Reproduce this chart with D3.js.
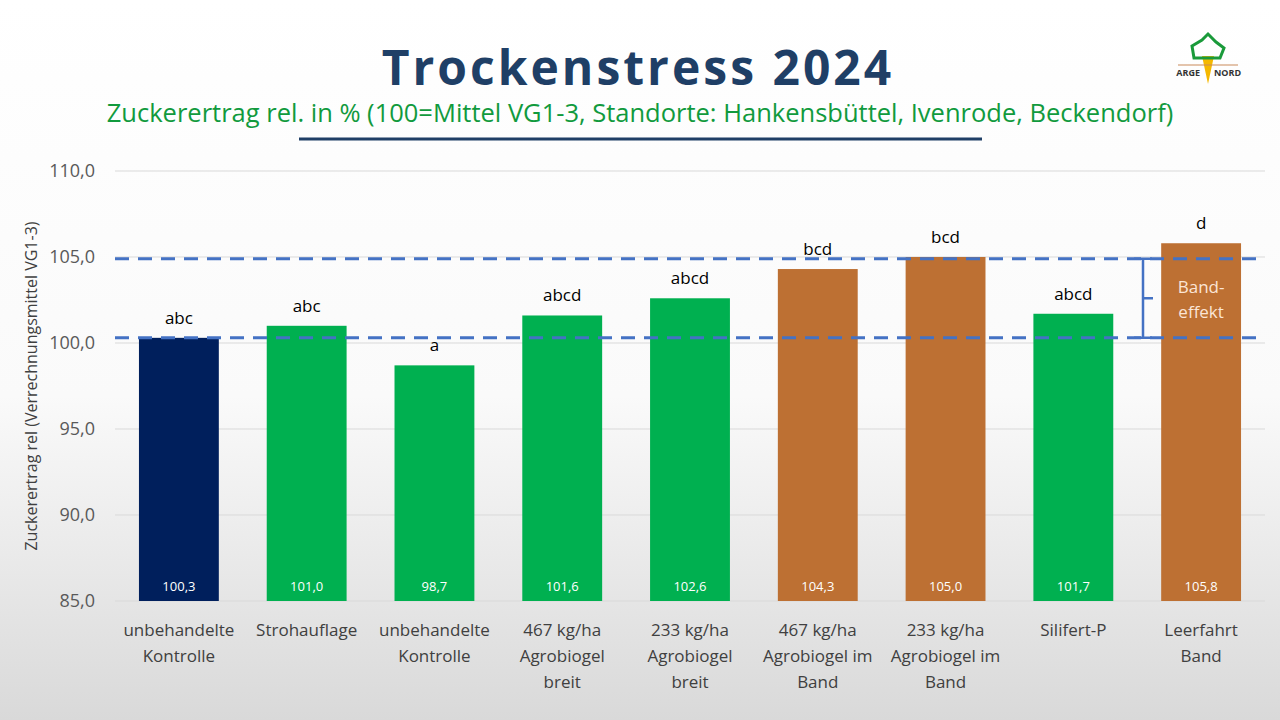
<!DOCTYPE html>
<html><head><meta charset="utf-8">
<script src="https://cdn.jsdelivr.net/npm/d3@7"></script>
<style>body{margin:0;overflow:hidden}svg{display:block}text{font-family:"Open Sans","Noto Sans",sans-serif}</style>
</head><body><svg id="canvas"></svg>
<script>
let categories = [
  ['unbehandelte', 'Kontrolle'], ['Strohauflage'], ['unbehandelte', 'Kontrolle'],
  ['467 kg/ha', 'Agrobiogel', 'breit'], ['233 kg/ha', 'Agrobiogel', 'breit'],
  ['467 kg/ha', 'Agrobiogel im', 'Band'], ['233 kg/ha', 'Agrobiogel im', 'Band'],
  ['Silifert-P'], ['Leerfahrt', 'Band']
]
let values = [100.3, 101.0, 98.7, 101.6, 102.6, 104.3, 105.0, 101.7, 105.8]
let letters = ['abc', 'abc', 'a', 'abcd', 'abcd', 'bcd', 'bcd', 'abcd', 'd']
let colors = ['#001f5c', '#00b050', '#00b050', '#00b050', '#00b050', '#bd7033', '#bd7033', '#00b050', '#bd7033']
let yTicks = [85, 90, 95, 100, 105, 110]
let refLines = [100.3, 104.9]

let width = 1280, height = 720
let svg = d3.select('#canvas').attr('width', width).attr('height', height)

let grad = svg.append('defs').append('linearGradient').attr('id', 'bg').attr('x1', 0).attr('x2', 0).attr('y1', 0).attr('y2', 1)
grad.append('stop').attr('offset', '0%').attr('stop-color', '#ffffff')
grad.append('stop').attr('offset', '55%').attr('stop-color', '#fafafa')
grad.append('stop').attr('offset', '100%').attr('stop-color', '#d9d9d9')
svg.append('rect').attr('width', width).attr('height', height).attr('fill', 'url(#bg)')

svg.append('text').attr('x', 638).attr('y', 85).attr('text-anchor', 'middle')
  .attr('font-size', 48).attr('font-weight', 'bold').attr('letter-spacing', 3).attr('fill', '#1f3f66')
  .text('Trockenstress 2024')
svg.append('text').attr('x', 640).attr('y', 122).attr('text-anchor', 'middle')
  .attr('font-size', 25.5).attr('fill', '#119a3d')
  .text('Zuckerertrag rel. in % (100=Mittel VG1-3, Standorte: Hankensbüttel, Ivenrode, Beckendorf)')
svg.append('line').attr('x1', 299).attr('x2', 982).attr('y1', 139).attr('y2', 139)
  .attr('stroke', '#1f3f66').attr('stroke-width', 3)

// logo
let logo = svg.append('g').attr('transform', 'translate(1208,60)')
logo.append('path').attr('d', 'M-6,-4 L0,24 L6,-4 Z').attr('fill', '#f5b800')
logo.append('path').attr('d', 'M-14,-2 L-16,-14 L-6,-20 L0,-26 L8,-18 L16,-12 L12,-2 Z').attr('fill', 'none').attr('stroke', '#1a9a3a').attr('stroke-width', 3)
logo.append('line').attr('x1', -30).attr('x2', 30).attr('y1', 5).attr('y2', 5).attr('stroke', '#c98a5a').attr('stroke-width', 1)
logo.append('text').attr('x', -8).attr('y', 16).attr('text-anchor', 'end').attr('font-size', 9).attr('font-weight', 'bold').attr('fill', '#333').text('ARGE')
logo.append('text').attr('x', 6).attr('y', 16).attr('font-size', 9).attr('font-weight', 'bold').attr('fill', '#333').text('NORD')

let xScale = d3.scaleBand().domain(d3.range(values.length)).range([115, 1265]).paddingInner(0.375).paddingOuter(0.1875)
let yScale = d3.scaleLinear().domain([85, 110]).range([601, 171])

svg.append('g').selectAll('line').data(yTicks).enter().append('line')
  .attr('x1', 115).attr('x2', 1265).attr('y1', d => yScale(d)).attr('y2', d => yScale(d))
  .attr('stroke', '#d9d9d9')

let yAxis = d3.axisLeft(yScale).tickValues(yTicks).tickSize(0).tickPadding(10)
  .tickFormat(d => d3.format('.1f')(d).replace('.', ','))
let ya = svg.append('g').attr('transform', 'translate(105,0)').call(yAxis)
ya.select('.domain').remove()
ya.selectAll('text').attr('font-size', 18).attr('fill', '#595959').attr('font-family', '"Open Sans",sans-serif')

svg.append('text').attr('transform', 'translate(37,386) rotate(-90)').attr('text-anchor', 'middle')
  .attr('font-size', 16).attr('fill', '#404040').text('Zuckerertrag rel (Verrechnungsmittel VG1-3)')

svg.selectAll('.bar').data(values).enter().append('rect').attr('class', 'bar')
  .attr('x', (d, i) => xScale(i)).attr('width', xScale.bandwidth())
  .attr('y', d => yScale(d)).attr('height', d => yScale(85) - yScale(d))
  .attr('fill', (d, i) => colors[i])

svg.selectAll('.val').data(values).enter().append('text').attr('class', 'val')
  .attr('x', (d, i) => xScale(i) + xScale.bandwidth() / 2).attr('y', 591).attr('text-anchor', 'middle')
  .attr('font-size', 13).attr('fill', '#fff').text(d => d3.format('.1f')(d).replace('.', ','))

svg.selectAll('.let').data(values).enter().append('text').attr('class', 'let')
  .attr('x', (d, i) => xScale(i) + xScale.bandwidth() / 2).attr('y', d => yScale(d) - 14).attr('text-anchor', 'middle')
  .attr('font-size', 17).attr('fill', '#000').text((d, i) => letters[i])

svg.selectAll('.ref').data(refLines).enter().append('line').attr('class', 'ref')
  .attr('x1', 115).attr('x2', 1265).attr('y1', d => yScale(d)).attr('y2', d => yScale(d))
  .attr('stroke', '#4472c4').attr('stroke-width', 3).attr('stroke-dasharray', '14,9')

// brace
let bx = 1143, yt = yScale(refLines[1]), yb = yScale(refLines[0]), ym = (yt + yb) / 2
svg.append('path').attr('d', `M${bx - 9},${yt} H${bx + 9} M${bx},${yt} V${yb} M${bx - 9},${yb} H${bx + 9} M${bx},${ym} H${bx + 10}`)
  .attr('fill', 'none').attr('stroke', '#4472c4').attr('stroke-width', 2.5)
let bcx = xScale(8) + xScale.bandwidth() / 2
svg.append('text').attr('x', bcx).attr('y', 293).attr('text-anchor', 'middle').attr('font-size', 17).attr('fill', '#fbe5d6').text('Band-')
svg.append('text').attr('x', bcx).attr('y', 318).attr('text-anchor', 'middle').attr('font-size', 17).attr('fill', '#fbe5d6').text('effekt')

let xl = svg.selectAll('.cat').data(categories).enter().append('text').attr('class', 'cat')
  .attr('text-anchor', 'middle').attr('font-size', 17).attr('fill', '#404040')
xl.each(function (d, i) {
  d3.select(this).selectAll('tspan').data(d).enter().append('tspan')
    .attr('x', xScale(i) + xScale.bandwidth() / 2).attr('y', (t, j) => 636 + j * 26).text(t => t)
})
</script></body></html>
